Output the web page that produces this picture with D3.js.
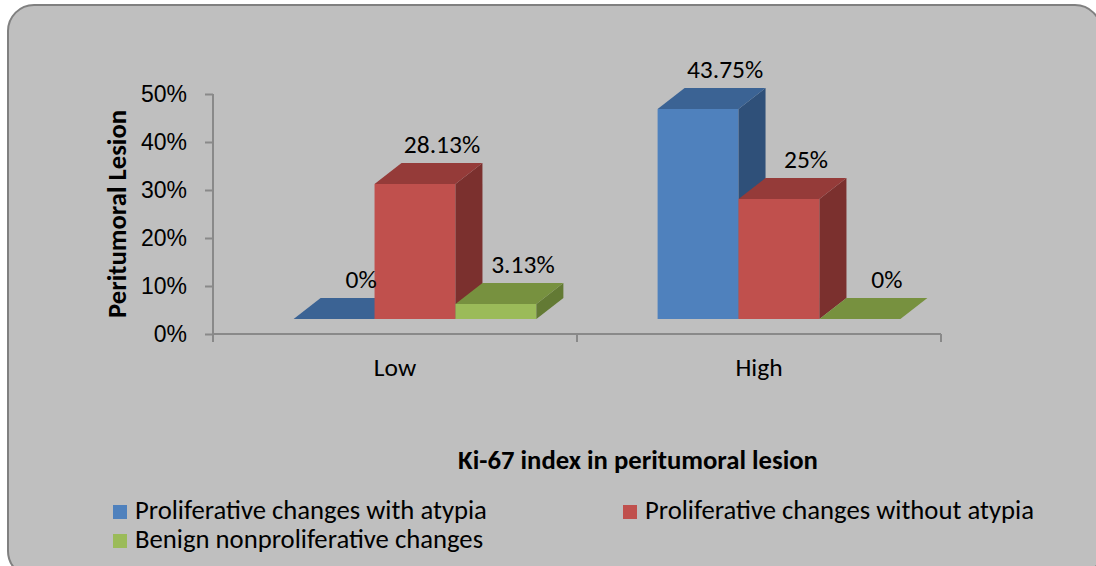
<!DOCTYPE html>
<html>
<head>
<meta charset="utf-8">
<title>Ki-67 index in peritumoral lesion</title>
<style>
  body { margin: 0; background: #ffffff; }
  svg { display: block; font-family: Calibri, Carlito, "Open Sans", sans-serif; }
  .tick text { font-size: 23px; fill: #000; }
  .cat { font-size: 25.5px; text-anchor: middle; }
  .lbl { font-size: 25.5px; text-anchor: middle; }
  .ttl { font-size: 26.7px; font-weight: bold; text-anchor: middle; }
  .leg { font-size: 26.7px; }
</style>
</head>
<body>
<svg width="1096" height="566"></svg>
<script src="https://d3js.org/d3.v7.min.js"></script>
<script>
// data
var categories = ["Low", "High"];
var series = ["Proliferative changes with atypia", "Proliferative changes without atypia", "Benign nonproliferative changes"];
var atypia    = [0, 0.4375];
var noAtypia  = [0.2813, 0.25];
var benign    = [0.0313, 0];
var yTicks = [0, 0.1, 0.2, 0.3, 0.4, 0.5];

var front = ["#4F81BD", "#C0504D", "#9BBB59"];
var top_  = ["#3B6394", "#953B39", "#77913F"];
var side  = ["#2F5079", "#7B302E", "#637A34"];

var values = [atypia, noAtypia, benign];

var svg = d3.select("svg");

// frame
svg.append("rect")
  .attr("x", 8).attr("y", 5).attr("width", 1093).attr("height", 572)
  .attr("rx", 26).attr("ry", 26)
  .attr("fill", "#bfbfbf").attr("stroke", "#808080").attr("stroke-width", 2);

// scales
var x = d3.scaleBand().domain(categories).range([213, 941]);
var y = d3.scaleLinear().domain([0, 0.5]).range([334, 94]);
var groupW = x.bandwidth() * 0.667;
var x1 = d3.scaleBand().domain(d3.range(series.length)).range([0, groupW]);

// 3d settings
var depthX = 27, depthY = -21, floorDrop = 15, shift = 20;
var axisCol = "#898989";

// y axis
var yAxis = d3.axisLeft(y).tickValues(yTicks).tickFormat(d3.format(".0%"))
  .tickSize(8).tickSizeOuter(0).tickPadding(18);
var gy = svg.append("g").attr("transform", "translate(213,0)").call(yAxis);
gy.select(".domain").remove();
gy.selectAll(".tick line").attr("stroke", axisCol).attr("stroke-width", 2);
gy.append("line").attr("x1", 0).attr("x2", 0).attr("y1", y(0.5)).attr("y2", y(0) + 8)
  .attr("stroke", axisCol).attr("stroke-width", 2);

// x axis
svg.append("line").attr("x1", x.range()[0]).attr("x2", x.range()[1])
  .attr("y1", y(0)).attr("y2", y(0)).attr("stroke", axisCol).attr("stroke-width", 2);
var bounds = categories.map(function(c) { return x(c); }).concat([x.range()[1]]).slice(1);
svg.selectAll(".xt").data(bounds).enter().append("line")
  .attr("x1", function(d) { return d; }).attr("x2", function(d) { return d; })
  .attr("y1", y(0)).attr("y2", y(0) + 8)
  .attr("stroke", axisCol).attr("stroke-width", 2);
svg.selectAll(".cat").data(categories).enter().append("text")
  .attr("class", "cat")
  .attr("x", function(d) { return x(d) + x.bandwidth() / 2; })
  .attr("y", 376)
  .text(function(d) { return d; });

// bars
var bars = [];
categories.forEach(function(c, ci) {
  series.forEach(function(s, si) {
    bars.push({ c: c, si: si, v: values[si][ci] });
  });
});

var g = svg.append("g");
bars.forEach(function(b) {
  var x0 = x(b.c) + x.bandwidth() / 2 - groupW / 2 + shift + x1(b.si);
  var x2 = x0 + x1.bandwidth();
  var yb = y(0) - floorDrop;
  var yt = y(b.v) - floorDrop;
  var pts = function(a) { return a.map(function(p) { return p.join(","); }).join(" "); };
  if (b.v > 0) {
    g.append("polygon").attr("fill", front[b.si])
      .attr("points", pts([[x0, yt], [x2, yt], [x2, yb], [x0, yb]]));
    g.append("polygon").attr("fill", side[b.si])
      .attr("points", pts([[x2, yt], [x2 + depthX, yt + depthY], [x2 + depthX, yb + depthY], [x2, yb]]));
  }
  g.append("polygon").attr("fill", top_[b.si])
    .attr("points", pts([[x0, yt], [x0 + depthX, yt + depthY], [x2 + depthX, yt + depthY], [x2, yt]]));
  b.lx = (x0 + x2) / 2 + depthX;
  b.ly = yt + depthY - 10;
});

svg.selectAll(".lbl").data(bars).enter().append("text")
  .attr("class", "lbl")
  .attr("x", function(d) { return d.lx; })
  .attr("y", function(d) { return d.ly; })
  .text(function(d) { return d3.format(".4~r")(d.v * 100) + "%"; });

// titles
svg.append("text").attr("class", "ttl")
  .attr("transform", "translate(126,214) rotate(-90)")
  .text("Peritumoral Lesion");
svg.append("text").attr("class", "ttl")
  .attr("x", 638).attr("y", 469)
  .text("Ki-67 index in peritumoral lesion");

// legend
var legPos = [[113, 505], [623, 505], [113, 534]];
var leg = svg.selectAll(".lg").data(series).enter().append("g")
  .attr("transform", function(d, i) { return "translate(" + legPos[i][0] + "," + legPos[i][1] + ")"; });
leg.append("rect").attr("width", 14).attr("height", 14)
  .attr("fill", function(d, i) { return front[i]; });
leg.append("text").attr("class", "leg").attr("x", 22).attr("y", 14)
  .text(function(d) { return d; });
</script>
</body>
</html>
